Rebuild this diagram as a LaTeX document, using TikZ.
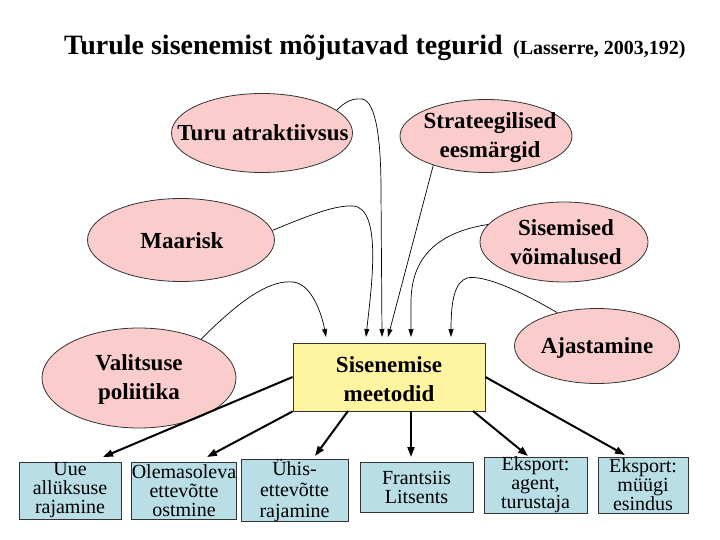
\documentclass[tikz,border=0pt]{standalone}
\usepackage{fontspec}
\setmainfont{Liberation Serif}
\usetikzlibrary{arrows.meta,shapes.geometric}
\definecolor{pinkfill}{RGB}{250,204,204}
\definecolor{yelfill}{RGB}{255,245,160}
\definecolor{bluefill}{RGB}{185,222,230}
\begin{document}
\begin{tikzpicture}[x=1pt,y=-1pt,
  ell/.style={ellipse, draw=black!80, fill=pinkfill, line width=0.8pt, inner sep=0pt},
  etext/.style={font=\fontsize{23}{29}\selectfont\bfseries, align=center, inner sep=0pt},
  ybox/.style={rectangle, draw=black!80, fill=yelfill, line width=0.8pt},
  sbox/.style={rectangle, draw=black!80, fill=bluefill, line width=0.8pt, align=center,
               font=\fontsize{20}{19}\selectfont, inner sep=0pt},
  thinarr/.style={line width=0.7pt, -{Triangle[length=8pt,width=5pt]}},
  thickarr/.style={line width=2pt, -{Triangle[length=10pt,width=7pt]}}
]
\useasboundingbox (0,0) rectangle (720,540);

% title
\node[anchor=base west, inner sep=0pt, font=\fontsize{28}{32}\selectfont\bfseries] (title) at (64,55) {Turule sisenemist mõjutavad tegurid};
\node[anchor=base west, inner sep=0pt, font=\fontsize{20}{24}\selectfont\bfseries] (src) at (513,55) {(Lasserre, 2003,192)};

% ellipses
\node[ell, minimum width=181, minimum height=79] (turu) at (262,133) {};
\node[etext] (turut) at (263,133) {Turu atraktiivsus};
\node[ell, minimum width=172, minimum height=73] (strat) at (486,136) {};
\node[etext] (stratt) at (490,138) {Strateegilised\\eesmärgid};
\node[ell, minimum width=187, minimum height=83] (maarisk) at (181,240) {};
\node[etext] (maariskt) at (182,241) {Maarisk};
\node[ell, minimum width=168, minimum height=80] (sisem) at (564,242) {};
\node[etext] (sisemt) at (566,242) {Sisemised\\võimalused};
\node[ell, minimum width=194, minimum height=100] (valit) at (139,378) {};
\node[etext] (valitt) at (139,379) {Valitsuse\\poliitika};
\node[ell, minimum width=165, minimum height=75] (ajast) at (597,346) {};
\node[etext] (ajastt) at (597,348) {Ajastamine};

% central box
\node[ybox, minimum width=192, minimum height=68] (sis) at (389,377) {};
\node[etext] (sist) at (389,379) {Sisenemise\\meetodid};

% bottom boxes
\node[sbox, minimum width=102, minimum height=57] (uue) at (70,490.5) {Uue\\allüksuse\\rajamine};
\node[sbox, minimum width=102, minimum height=57] (olem) at (184,490.5) {Olemasoleva\\ettevõtte\\ostmine};
\node[sbox, minimum width=107, minimum height=57, font=\fontsize{20}{21}\selectfont] (uhis) at (294.5,490.5) {Ühis-\\ettevõtte\\rajamine};
\node[sbox, minimum width=113, minimum height=50] (frant) at (416.5,487) {Frantsiis\\Litsents};
\node[sbox, minimum width=103, minimum height=56] (eks1) at (535.5,485) {Eksport:\\agent,\\turustaja};
\node[sbox, minimum width=90, minimum height=56] (eks2) at (643,485) {Eksport:\\müügi\\esindus};

% coordinates
\coordinate (e1) at (103,457);
\coordinate (e2) at (207,457);
\coordinate (s3) at (348,411);
\coordinate (e3) at (315,456);
\coordinate (s4) at (411,411);
\coordinate (e4) at (411,457);
\coordinate (s5) at (473,411);
\coordinate (e5) at (528,456);
\coordinate (e6) at (625,455);
\coordinate (t1) at (326,337);
\coordinate (t2) at (366,337);
\coordinate (t3) at (382,337);
\coordinate (t4) at (388,337);
\coordinate (t5) at (411,337);
\coordinate (t6) at (451,337);

% thick arrows
\draw[thickarr] (sis.west) -- (e1);
\draw[thickarr] (sis.south west) -- (e2);
\draw[thickarr] (s3) -- (e3);
\draw[thickarr] (s4) -- (e4);
\draw[thickarr] (s5) -- (e5);
\draw[thickarr] (sis.east) -- (e6);

% thin curved arrows
\draw[thinarr] (valit.32) .. controls (245,295) and (272,280) .. (293,282) .. controls (312,284) and (322,315) .. (t1);
\draw[thinarr] (maarisk.6) .. controls (310,215) and (335,205) .. (353,206) .. controls (383,208) and (371,290) .. (t2);
\draw[thinarr] (turu.17) .. controls (345,102) and (352,98) .. (362,99) .. controls (376,101) and (381,140) .. (381,190) -- (t3);
\draw[thinarr] (strat.-151) -- (t4);
\draw[thinarr] (sisem.167) .. controls (440,232) and (412,255) .. (411,300) -- (t5);
\draw[thinarr] (ajast.140) .. controls (510,285) and (480,275) .. (467,278) .. controls (455,282) and (451,300) .. (t6);
\end{tikzpicture}
\end{document}
